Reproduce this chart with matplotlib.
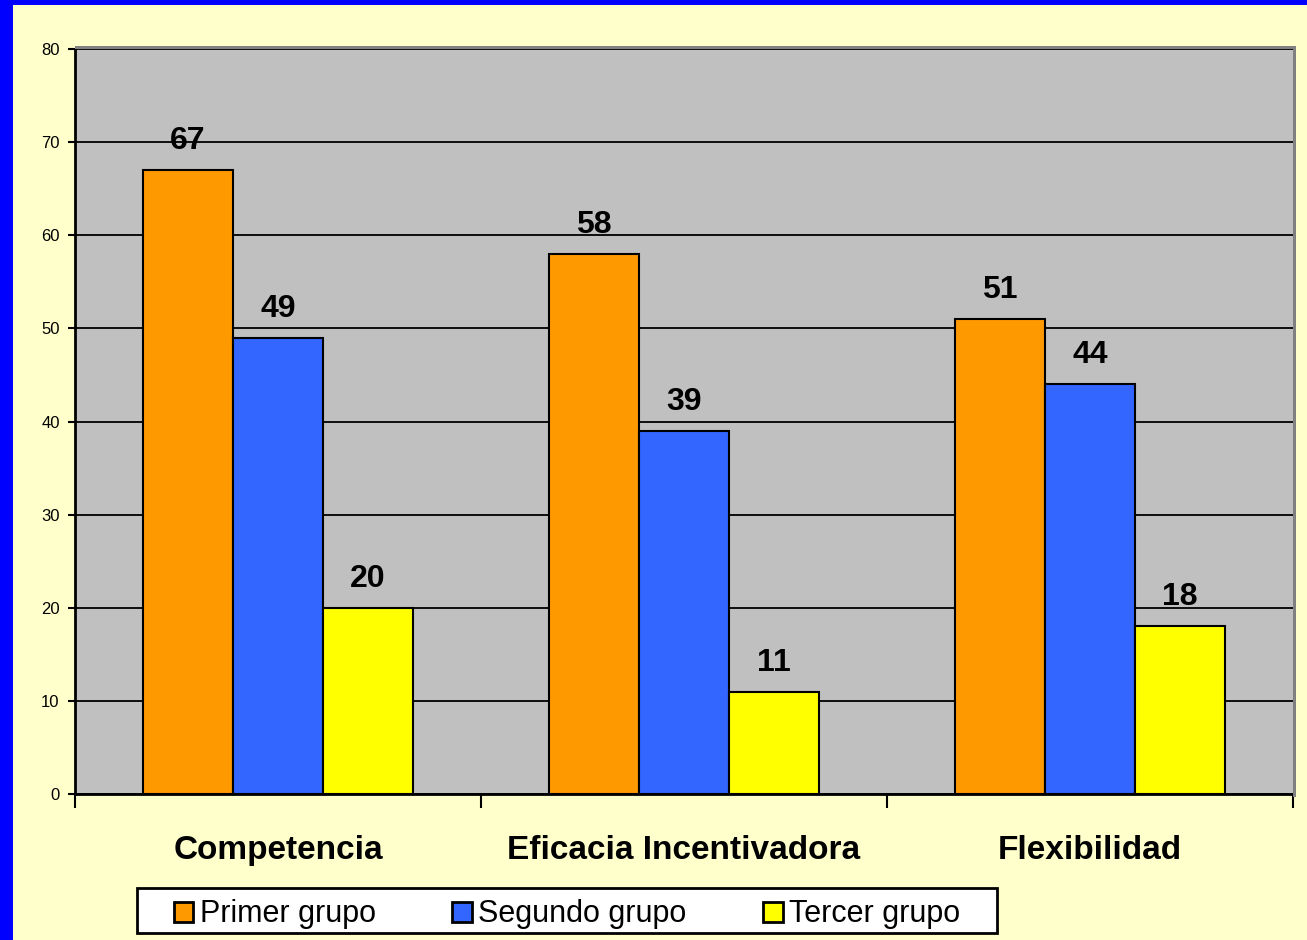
import matplotlib.pyplot as plt
import numpy as np
from matplotlib.patches import Rectangle

plt.rcParams['font.family'] = ['Liberation Sans', 'DejaVu Sans']

categorias = ['Competencia', 'Eficacia Incentivadora', 'Flexibilidad']
grupos = ['Primer grupo', 'Segundo grupo', 'Tercer grupo']
primer = [67, 58, 51]
segundo = [49, 39, 44]
tercer = [20, 11, 18]
colores = ['#FF9900', '#3366FF', '#FFFF00']

W, H = 1307, 940
fig = plt.figure(figsize=(W / 100, H / 100), dpi=100)
fig.patch.set_facecolor('#FFFFCC')

# marco azul (izquierda y arriba)
fig.patches.append(Rectangle((0, 0), 13 / W, 1, transform=fig.transFigure,
                             facecolor='#0000FF', edgecolor='none', zorder=0))
fig.patches.append(Rectangle((0, 1 - 5 / H), 1, 5 / H, transform=fig.transFigure,
                             facecolor='#0000FF', edgecolor='none', zorder=0))

ax = fig.add_axes([75 / W, 1 - 794 / H, (1293 - 75) / W, (794 - 49) / H])
ax.set_facecolor('#C0C0C0')

# sombra del area de trazado
fig.patches.append(Rectangle((75 / W, 1 - 49 / H), (1296 - 75) / W, 3 / H,
                             transform=fig.transFigure, facecolor='#808080',
                             edgecolor='none', zorder=0.5))
fig.patches.append(Rectangle((1293 / W, 1 - 797 / H), 3 / W, (797 - 47) / H,
                             transform=fig.transFigure, facecolor='#808080',
                             edgecolor='none', zorder=0.5))

x = np.arange(len(categorias))
ancho = 0.222
series = [primer, segundo, tercer]
for i, (vals, col, nom) in enumerate(zip(series, colores, grupos)):
    pos = x + (i - 1) * ancho
    ax.bar(pos, vals, width=ancho, color=col, edgecolor='black', linewidth=1.5,
           label=nom, zorder=3)
    for p, v in zip(pos, vals):
        ax.text(p, v + 1.5, str(v), ha='center', va='bottom', fontsize=23,
                fontweight='bold', zorder=4)

ax.set_xlim(-0.5, 2.5)
ax.set_ylim(0, 80)
ax.set_yticks(range(0, 81, 10))
ax.yaxis.grid(True, color='black', linewidth=1.3, zorder=1)
ax.set_axisbelow(True)
ax.tick_params(axis='y', labelsize=12, length=5, width=1.5, pad=6)

# ticks de x en los limites de categoria
ax.set_xticks([-0.5, 0.5, 1.5, 2.5])
ax.set_xticklabels([])
ax.tick_params(axis='x', length=10, width=1.5, direction='out')
for xi, cat in zip(x, categorias):
    ax.text(xi, -6.1, cat, ha='center', va='center', fontsize=24,
            fontweight='bold', transform=ax.transData)

for s in ['top', 'right']:
    ax.spines[s].set_visible(False)
ax.spines['left'].set_linewidth(2)
ax.spines['bottom'].set_linewidth(2)

# leyenda: marco blanco y entradas repartidas dentro
fig.patches.append(Rectangle((137 / W, 1 - 933 / H), 860 / W, 45 / H,
                             transform=fig.transFigure, facecolor='white',
                             edgecolor='black', linewidth=2, zorder=2))
leg = fig.legend(loc='lower left', bbox_to_anchor=(172 / W, 1 - 931 / H, 790 / W, 41 / H),
                 mode='expand', ncol=3, fontsize=22, frameon=False,
                 handlelength=0.65, handleheight=0.65, handletextpad=0.2,
                 borderpad=0.05, borderaxespad=0)
leg.set_zorder(3)
for h in leg.legend_handles:
    h.set_linewidth(2)

fig.savefig('out.png', dpi=100, facecolor=fig.get_facecolor())
